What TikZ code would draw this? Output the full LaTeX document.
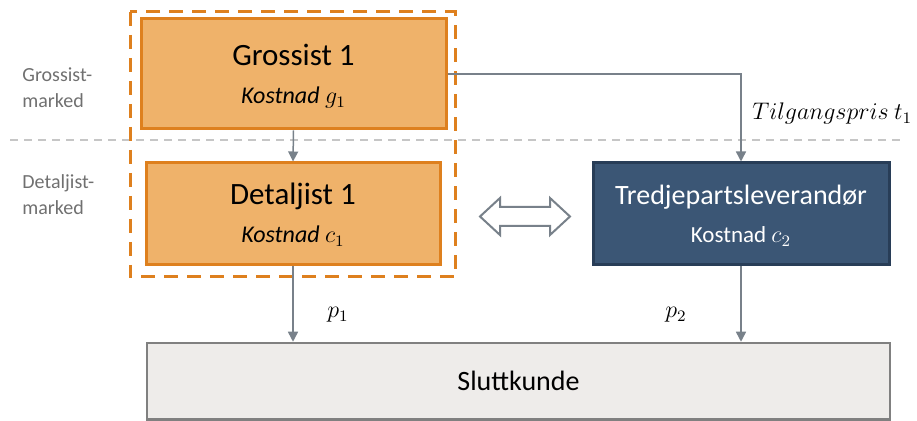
\documentclass[tikz,border=0pt]{standalone}
\usepackage{fontspec}
\setmainfont{Carlito}
\usetikzlibrary{positioning, calc, arrows.meta}

\definecolor{ramme}{RGB}{222,128,30}
\definecolor{oransje}{RGB}{239,178,106}
\definecolor{marine}{RGB}{59,86,117}
\definecolor{marinekant}{RGB}{40,61,87}
\definecolor{piler}{RGB}{120,129,138}
\definecolor{lysgraa}{RGB}{238,236,234}
\definecolor{kantgraa}{RGB}{128,128,128}
\definecolor{tekstgraa}{RGB}{112,112,112}

\tikzset{
  aktoer/.style={rectangle, draw=ramme, fill=oransje, line width=1.5pt, inner sep=0pt},
  leverandor/.style={rectangle, draw=marinekant, fill=marine, line width=1.5pt, inner sep=0pt},
  kunde/.style={rectangle, draw=kantgraa, fill=lysgraa, line width=1.25pt, inner sep=0pt,
    font=\fontsize{14}{16}\selectfont},
  tittel/.style={anchor=base, inner sep=0pt, font=\fontsize{15.5}{18}\selectfont},
  kostnad/.style={anchor=base, inner sep=0pt, font=\fontsize{12}{14}\selectfont\itshape},
  marked/.style={anchor=west, align=left, inner sep=0pt, text=tekstgraa,
    font=\fontsize{10}{13}\selectfont},
  flyt/.style={->, draw=piler, line width=0.75pt},
  pris/.style={anchor=base, inner sep=0pt, font=\fontsize{12}{14}\selectfont},
}

\begin{document}
\begin{tikzpicture}[x=0.5pt, y=-0.5pt, >={Triangle[length=5pt,width=5pt]}]
    \useasboundingbox (0,0) rectangle (917,421);

    % Skille mellom grossist- og detaljistmarked
    \draw[gray!45, line width=1pt, dash pattern=on 4pt off 3pt] (10,140) -- (905,140);

    % Vertikalt integrert aktoer (stiplet ramme)
    \draw[ramme, line width=1.5pt, dash pattern=on 7pt off 4.5pt] (130,12) rectangle (455,277);

    % Boksene
    \node[aktoer, minimum width=152.5pt, minimum height=55pt] (gros) at (293.5,74) {};
    \node[aktoer, minimum width=147pt, minimum height=51pt] (detalj) at (293,214) {};
    \node[leverandor, minimum width=148pt, minimum height=51pt] (tredje) at (741,214) {};
    \node[kunde, minimum width=371.5pt, minimum height=38.25pt] (slutt) at (518.5,381.25) {Sluttkunde};

    % Tekst i boksene
    \node[tittel] (grostittel) at ($(gros.center)+(0,-8)$) {Grossist 1};
    \node[kostnad] (groskost) at ($(gros.center)+(0,30)$) {Kostnad $g_1$};
    \node[tittel] (detaljtittel) at ($(detalj.center)+(0,-9)$) {Detaljist 1};
    \node[kostnad] (detaljkost) at ($(detalj.center)+(0,29)$) {Kostnad $c_1$};
    \node[tittel, text=white, font=\fontsize{14}{17}\selectfont] (tredjetittel)
        at ($(tredje.center)+(0,-9)$) {Tredjepartsleverandør};
    \node[kostnad, text=white, font=\fontsize{11.5}{14}\selectfont] (tredjekost)
        at ($(tredje.center)+(0,29)$) {Kostnad $c_2$};

    % Markedsnivaa
    \node[marked] (grosmarked) at (22,88) {Grossist-\\marked};
    \node[marked] (detaljmarked) at (22,195) {Detaljist-\\marked};

    % Piler
    \draw[flyt] (gros.south) -- (detalj.north);
    \draw[flyt] (gros.east) -| (tredje.north);
    \draw[flyt] (detalj.south) -- (detalj.south |- slutt.north);
    \draw[flyt] (tredje.south) -- (tredje.south |- slutt.north);

    % Priser
    \node[pris, anchor=base west] (tilgang) at (752,120) {$Tilgangspris\ t_1$};
    \node[pris] (p1) at (338,318) {$p_1$};
    \node[pris] (p2) at (676,318) {$p_2$};

    % Konkurranse mellom detaljistene
    \coordinate (bytte) at (525,216.5);
    \draw[piler, fill=white, line width=1pt, line join=miter, shift={(bytte)}]
        (-45,0) -- (-25,-18.5) -- (-25,-9.5) -- (25,-9.5) -- (25,-18.5) -- (45,0)
        -- (25,18.5) -- (25,9.5) -- (-25,9.5) -- (-25,18.5) -- cycle;
\end{tikzpicture}
\end{document}
